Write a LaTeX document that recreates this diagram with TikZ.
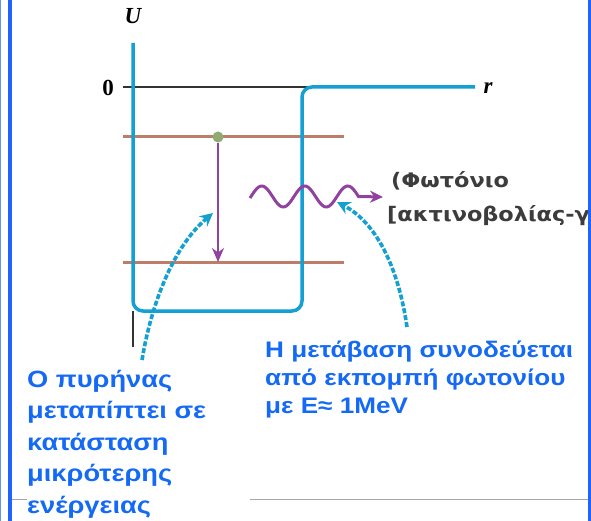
\documentclass[tikz,border=0pt]{standalone}
\usepackage{fontspec}
\usepackage{graphicx}
\setmainfont{Liberation Serif}
\newfontfamily\bluefont{Liberation Sans}
\newfontfamily\photfont{DejaVu Sans}
\usetikzlibrary{arrows.meta}
\newcommand\widetxt[1]{\scalebox{1.16}[1]{#1}}
\newcommand\widephot[1]{\scalebox{1.12}[1]{#1}}
\definecolor{bordblue}{RGB}{30,100,250}
\definecolor{txtblue}{RGB}{20,105,245}
\definecolor{wellcyan}{RGB}{20,160,210}
\definecolor{levbrown}{RGB}{190,125,105}
\definecolor{phpurple}{RGB}{145,65,160}
\definecolor{dotgreen}{RGB}{145,170,115}
\definecolor{phgray}{RGB}{60,60,60}
\tikzset{
  border/.style={bordblue,line width=3.5pt},
  well/.style={wellcyan,line width=3.5pt,rounded corners=10pt},
  level/.style={levbrown,line width=3pt},
  axisblack/.style={black!80,line width=1.3pt},
  pointer/.style={wellcyan,line width=3.6pt,dash pattern=on 5pt off 2pt,-{Stealth[length=13pt,width=13pt]}},
  transarrow/.style={phpurple,line width=2pt,-{Stealth[length=14pt,width=12pt]}},
  bluetext/.style={txtblue,font=\bluefont\bfseries,align=left,inner sep=0pt,anchor=base west},
  phtext/.style={phgray,font=\photfont\bfseries\fontsize{20}{24}\selectfont,inner sep=0pt,anchor=base west}
}
\begin{document}
\begin{tikzpicture}[x=1pt,y=-1pt]
\useasboundingbox (0,0) rectangle (591,521);
\fill[white] (0,0) rectangle (591,521);
% gray bottom line
\draw[gray!70,line width=1pt] (12,499) -- (27,499);
\draw[gray!70,line width=1pt] (250,499) -- (588,499);
% coordinates
\coordinate (axtop) at (133,43);
\coordinate (wellbl) at (133,311);
\coordinate (wellbr) at (302,311);
\coordinate (welltr) at (302,87);
\coordinate (rend) at (475,87);
\coordinate (axbot) at (133,347);
% zero line
\node[font=\bfseries\fontsize{23}{23}\selectfont,anchor=base] (zero) at (108,96) {0};
\draw[axisblack] (123,87) -- (310,87);
% energy levels
\coordinate (l1a) at (123,137); \coordinate (l1b) at (344,137);
\coordinate (l2a) at (123,262); \coordinate (l2b) at (344,262);
\draw[level] (l1a) -- (l1b);
\draw[level] (l2a) -- (l2b);
% well
\draw[axisblack] (wellbl) -- (axbot);
\draw[well] (axtop) -- (wellbl) -- (wellbr) -- (welltr) -- (rend);
\node[font=\itshape\bfseries\fontsize{23}{23}\selectfont,anchor=base] (U) at (133,24) {U};
\node[font=\itshape\bfseries\fontsize{23}{23}\selectfont,anchor=base west] (r) at (480,94) {r};
% transition
\node[circle,fill=dotgreen,minimum size=11pt,inner sep=0pt] (dot) at (218,137) {};
\coordinate (lowlev) at (218,262);
\draw[transarrow] (dot) -- (lowlev);
% photon wave
\coordinate (wavetip) at (383,197);
\draw[phpurple,line width=3pt,-{Stealth[length=13pt,width=12pt]}]
  plot[domain=250:358.5,samples=90,smooth] (\x,{196.5-10.5*sin(8.372093*(\x-251))}) -- (wavetip);
% texts
\begin{scope}
\clip (380,150) rectangle (588,240);
\node[phtext] (phot1) at (391,188) {\widephot{(Φωτόνιο}};
\node[phtext] (phot2) at (387,222) {\widephot{[ακτινοβολίας-γ}};
\end{scope}
\node[bluetext,font=\bluefont\bfseries\fontsize{23.5}{31.5}\selectfont] (left) at (27,513)
  {\widetxt{Ο πυρήνας}\\\widetxt{μεταπίπτει σε}\\\widetxt{κατάσταση}\\\widetxt{μικρότερης}\\\widetxt{ενέργειας}};
\node[bluetext,font=\bluefont\bfseries\fontsize{22.5}{28}\selectfont] (right) at (265,413)
  {\widetxt{Η μετάβαση συνοδεύεται}\\\widetxt{από εκπομπή φωτονίου}\\\widetxt{με E≈ 1MeV}};
% pointers
\coordinate (p1s) at (142,360); \coordinate (p1e) at (213,213);
\coordinate (p2s) at (407,327); \coordinate (p2e) at (337,202);
\draw[pointer] (p1s) .. controls (152,300) and (175,245) .. (p1e);
\draw[pointer] (p2s) .. controls (398,265) and (375,222) .. (p2e);
% borders
\draw[bordblue!70,line width=1pt] (0.5,0) -- (0.5,521);
\draw[border] (10,0) -- (10,521);
\draw[border] (589.5,0) -- (589.5,521);
\end{tikzpicture}
\end{document}
